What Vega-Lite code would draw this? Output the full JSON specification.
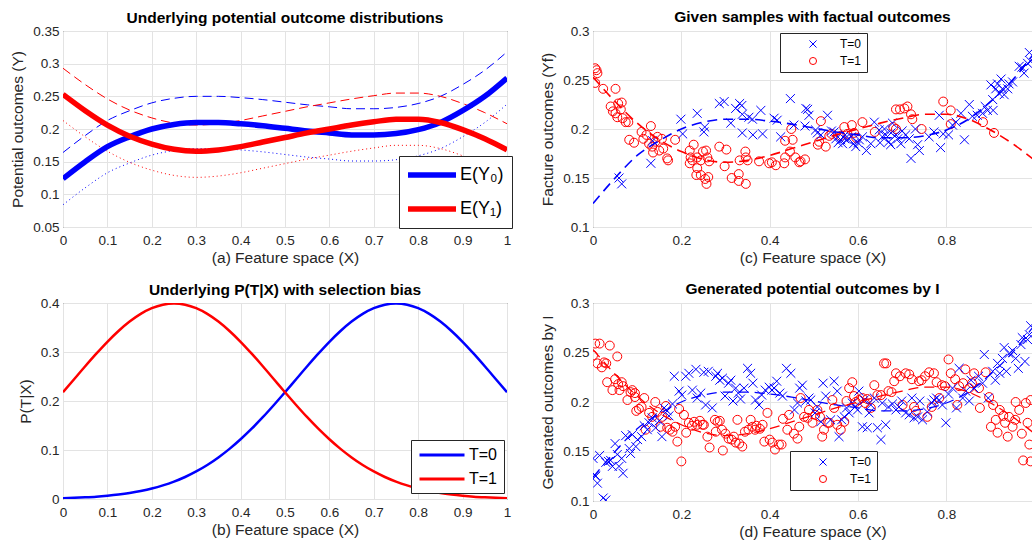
{
"$schema":"https://vega.github.io/schema/vega-lite/v6.json",
"padding":{"left":10,"top":9,"right":0,"bottom":0},
"background":"white",
"config":{
 "font":"Liberation Sans",
 "view":{"stroke":"#262626","strokeWidth":1},
 "axis":{"domain":false,"ticks":false,"grid":true,"gridColor":"#e3e3e3","labelFontSize":13.5,"labelColor":"#262626","titleFontSize":15.5,"titleFontWeight":"normal","titleColor":"#262626","labelPadding":4,"labelOverlap":false,"labelFlush":false,"labelBound":false},
 "axisX":{"labelPadding":6,"titlePadding":4},
 "axisY":{"titlePadding":7},
 "title":{"fontSize":15.5,"fontWeight":"bold","color":"#000000","anchor":"middle","offset":-2},
 "legend":{"strokeColor":"#262626","fillColor":"white","labelColor":"#000000","cornerRadius":0}
},
"datasets":{
 "curves":[
  {"x":0,"m0":0.124,"m1":0.253,"u0":0.164,"l0":0.084,"u1":0.293,"l1":0.213},
  {"x":0.05,"m0":0.150,"m1":0.228,"u0":0.190,"l0":0.110,"u1":0.268,"l1":0.188},
  {"x":0.1,"m0":0.173,"m1":0.206,"u0":0.213,"l0":0.133,"u1":0.246,"l1":0.166},
  {"x":0.15,"m0":0.188,"m1":0.189,"u0":0.228,"l0":0.148,"u1":0.229,"l1":0.149},
  {"x":0.2,"m0":0.200,"m1":0.177,"u0":0.240,"l0":0.160,"u1":0.217,"l1":0.137},
  {"x":0.25,"m0":0.207,"m1":0.169,"u0":0.247,"l0":0.167,"u1":0.209,"l1":0.129},
  {"x":0.3,"m0":0.210,"m1":0.166,"u0":0.250,"l0":0.170,"u1":0.206,"l1":0.126},
  {"x":0.35,"m0":0.210,"m1":0.168,"u0":0.250,"l0":0.170,"u1":0.208,"l1":0.128},
  {"x":0.4,"m0":0.208,"m1":0.173,"u0":0.248,"l0":0.168,"u1":0.213,"l1":0.133},
  {"x":0.45,"m0":0.205,"m1":0.180,"u0":0.245,"l0":0.165,"u1":0.220,"l1":0.140},
  {"x":0.5,"m0":0.201,"m1":0.187,"u0":0.241,"l0":0.161,"u1":0.227,"l1":0.147},
  {"x":0.55,"m0":0.197,"m1":0.194,"u0":0.237,"l0":0.157,"u1":0.234,"l1":0.154},
  {"x":0.6,"m0":0.194,"m1":0.200,"u0":0.234,"l0":0.154,"u1":0.240,"l1":0.160},
  {"x":0.65,"m0":0.191,"m1":0.206,"u0":0.231,"l0":0.151,"u1":0.246,"l1":0.166},
  {"x":0.7,"m0":0.191,"m1":0.211,"u0":0.231,"l0":0.151,"u1":0.251,"l1":0.171},
  {"x":0.75,"m0":0.193,"m1":0.215,"u0":0.233,"l0":0.153,"u1":0.255,"l1":0.175},
  {"x":0.8,"m0":0.199,"m1":0.215,"u0":0.239,"l0":0.159,"u1":0.255,"l1":0.175},
  {"x":0.85,"m0":0.210,"m1":0.210,"u0":0.250,"l0":0.170,"u1":0.250,"l1":0.170},
  {"x":0.9,"m0":0.228,"m1":0.199,"u0":0.268,"l0":0.188,"u1":0.239,"l1":0.159},
  {"x":0.95,"m0":0.250,"m1":0.185,"u0":0.290,"l0":0.210,"u1":0.225,"l1":0.145},
  {"x":1,"m0":0.278,"m1":0.168,"u0":0.318,"l0":0.238,"u1":0.208,"l1":0.128}
 ],
 "ptx":[
  {"x":0,"T=0":0.0017,"T=1":0.2178},{"x":0.025,"T=0":0.0025,"T=1":0.2444},{"x":0.05,"T=0":0.0035,"T=1":0.2709},{"x":0.075,"T=0":0.0048,"T=1":0.2966},{"x":0.1,"T=0":0.0067,"T=1":0.3209},{"x":0.125,"T=0":0.0091,"T=1":0.3429},{"x":0.15,"T=0":0.0122,"T=1":0.3621},{"x":0.175,"T=0":0.0163,"T=1":0.3778},{"x":0.2,"T=0":0.0213,"T=1":0.3894},{"x":0.225,"T=0":0.0277,"T=1":0.3965},{"x":0.25,"T=0":0.0355,"T=1":0.3989},{"x":0.275,"T=0":0.0449,"T=1":0.3965},{"x":0.3,"T=0":0.0562,"T=1":0.3894},{"x":0.325,"T=0":0.0694,"T=1":0.3778},{"x":0.35,"T=0":0.0848,"T=1":0.3621},{"x":0.375,"T=0":0.1023,"T=1":0.3429},{"x":0.4,"T=0":0.1219,"T=1":0.3209},{"x":0.425,"T=0":0.1435,"T=1":0.2966},{"x":0.45,"T=0":0.1669,"T=1":0.2709},{"x":0.475,"T=0":0.1919,"T=1":0.2444},{"x":0.5,"T=0":0.2178,"T=1":0.2178},{"x":0.525,"T=0":0.2444,"T=1":0.1919},{"x":0.55,"T=0":0.2709,"T=1":0.1669},{"x":0.575,"T=0":0.2966,"T=1":0.1435},{"x":0.6,"T=0":0.3209,"T=1":0.1219},{"x":0.625,"T=0":0.3429,"T=1":0.1023},{"x":0.65,"T=0":0.3621,"T=1":0.0848},{"x":0.675,"T=0":0.3778,"T=1":0.0694},{"x":0.7,"T=0":0.3894,"T=1":0.0562},{"x":0.725,"T=0":0.3965,"T=1":0.0449},{"x":0.75,"T=0":0.3989,"T=1":0.0355},{"x":0.775,"T=0":0.3965,"T=1":0.0277},{"x":0.8,"T=0":0.3894,"T=1":0.0213},{"x":0.825,"T=0":0.3778,"T=1":0.0163},{"x":0.85,"T=0":0.3621,"T=1":0.0122},{"x":0.875,"T=0":0.3429,"T=1":0.0091},{"x":0.9,"T=0":0.3209,"T=1":0.0067},{"x":0.925,"T=0":0.2966,"T=1":0.0048},{"x":0.95,"T=0":0.2709,"T=1":0.0035},{"x":0.975,"T=0":0.2444,"T=1":0.0025},{"x":1,"T=0":0.2178,"T=1":0.0017}
 ],
 "sc":[
  {"T":"T=1","x":0.005,"v":0.262},{"T":"T=1","x":0.008,"v":0.260},{"T":"T=1","x":0.010,"v":0.257},{"T":"T=1","x":0.005,"v":0.247},{"T":"T=1","x":0.023,"v":0.241},{"T":"T=1","x":0.051,"v":0.241},{"T":"T=1","x":0.040,"v":0.223},{"T":"T=1","x":0.045,"v":0.218},{"T":"T=1","x":0.051,"v":0.216},{"T":"T=1","x":0.057,"v":0.226},{"T":"T=1","x":0.065,"v":0.227},{"T":"T=1","x":0.063,"v":0.220},{"T":"T=1","x":0.055,"v":0.212},{"T":"T=1","x":0.067,"v":0.211},{"T":"T=1","x":0.074,"v":0.207},{"T":"T=1","x":0.080,"v":0.207},{"T":"T=1","x":0.082,"v":0.189},{"T":"T=1","x":0.093,"v":0.186},{"T":"T=1","x":0.110,"v":0.197},{"T":"T=1","x":0.114,"v":0.190},{"T":"T=1","x":0.121,"v":0.194},{"T":"T=1","x":0.131,"v":0.203},{"T":"T=1","x":0.127,"v":0.185},{"T":"T=1","x":0.134,"v":0.182},{"T":"T=1","x":0.146,"v":0.192},{"T":"T=1","x":0.141,"v":0.187},{"T":"T=1","x":0.156,"v":0.190},{"T":"T=1","x":0.150,"v":0.178},{"T":"T=1","x":0.159,"v":0.180},{"T":"T=1","x":0.168,"v":0.170},{"T":"T=1","x":0.170,"v":0.168},{"T":"T=1","x":0.136,"v":0.176},{"T":"T=1","x":0.186,"v":0.189},{"T":"T=1","x":0.219,"v":0.178},{"T":"T=1","x":0.228,"v":0.184},{"T":"T=1","x":0.221,"v":0.171},{"T":"T=1","x":0.225,"v":0.168},{"T":"T=1","x":0.219,"v":0.165},{"T":"T=1","x":0.236,"v":0.171},{"T":"T=1","x":0.244,"v":0.168},{"T":"T=1","x":0.249,"v":0.177},{"T":"T=1","x":0.256,"v":0.178},{"T":"T=1","x":0.259,"v":0.171},{"T":"T=1","x":0.263,"v":0.167},{"T":"T=1","x":0.236,"v":0.160},{"T":"T=1","x":0.234,"v":0.153},{"T":"T=1","x":0.244,"v":0.153},{"T":"T=1","x":0.254,"v":0.149},{"T":"T=1","x":0.257,"v":0.144},{"T":"T=1","x":0.261,"v":0.151},{"T":"T=1","x":0.286,"v":0.182},{"T":"T=1","x":0.302,"v":0.179},{"T":"T=1","x":0.298,"v":0.162},{"T":"T=1","x":0.314,"v":0.150},{"T":"T=1","x":0.330,"v":0.154},{"T":"T=1","x":0.330,"v":0.147},{"T":"T=1","x":0.346,"v":0.144},{"T":"T=1","x":0.345,"v":0.177},{"T":"T=1","x":0.346,"v":0.171},{"T":"T=1","x":0.350,"v":0.168},{"T":"T=1","x":0.332,"v":0.168},{"T":"T=1","x":0.376,"v":0.167},{"T":"T=1","x":0.399,"v":0.165},{"T":"T=1","x":0.405,"v":0.166},{"T":"T=1","x":0.414,"v":0.163},{"T":"T=1","x":0.433,"v":0.165},{"T":"T=1","x":0.435,"v":0.171},{"T":"T=1","x":0.446,"v":0.177},{"T":"T=1","x":0.458,"v":0.171},{"T":"T=1","x":0.467,"v":0.166},{"T":"T=1","x":0.470,"v":0.167},{"T":"T=1","x":0.480,"v":0.169},{"T":"T=1","x":0.435,"v":0.188},{"T":"T=1","x":0.452,"v":0.189},{"T":"T=1","x":0.449,"v":0.200},{"T":"T=1","x":0.509,"v":0.184},{"T":"T=1","x":0.512,"v":0.187},{"T":"T=1","x":0.516,"v":0.208},{"T":"T=1","x":0.527,"v":0.182},{"T":"T=1","x":0.535,"v":0.193},{"T":"T=1","x":0.540,"v":0.195},{"T":"T=1","x":0.561,"v":0.193},{"T":"T=1","x":0.569,"v":0.202},{"T":"T=1","x":0.576,"v":0.195},{"T":"T=1","x":0.586,"v":0.204},{"T":"T=1","x":0.591,"v":0.196},{"T":"T=1","x":0.596,"v":0.191},{"T":"T=1","x":0.610,"v":0.207},{"T":"T=1","x":0.638,"v":0.197},{"T":"T=1","x":0.680,"v":0.202},{"T":"T=1","x":0.686,"v":0.200},{"T":"T=1","x":0.686,"v":0.220},{"T":"T=1","x":0.695,"v":0.220},{"T":"T=1","x":0.705,"v":0.221},{"T":"T=1","x":0.712,"v":0.223},{"T":"T=1","x":0.720,"v":0.215},{"T":"T=1","x":0.723,"v":0.210},{"T":"T=1","x":0.744,"v":0.200},{"T":"T=1","x":0.793,"v":0.228},{"T":"T=1","x":0.810,"v":0.219},{"T":"T=1","x":0.810,"v":0.205},{"T":"T=1","x":0.883,"v":0.207},{"T":"T=1","x":0.908,"v":0.196},
  {"T":"T=0","x":0.059,"v":0.150},{"T":"T=0","x":0.065,"v":0.144},{"T":"T=0","x":0.131,"v":0.165},{"T":"T=0","x":0.135,"v":0.188},{"T":"T=0","x":0.199,"v":0.210},{"T":"T=0","x":0.203,"v":0.195},{"T":"T=0","x":0.236,"v":0.216},{"T":"T=0","x":0.253,"v":0.202},{"T":"T=0","x":0.251,"v":0.197},{"T":"T=0","x":0.286,"v":0.226},{"T":"T=0","x":0.297,"v":0.228},{"T":"T=0","x":0.312,"v":0.206},{"T":"T=0","x":0.323,"v":0.221},{"T":"T=0","x":0.332,"v":0.226},{"T":"T=0","x":0.337,"v":0.224},{"T":"T=0","x":0.338,"v":0.215},{"T":"T=0","x":0.338,"v":0.196},{"T":"T=0","x":0.353,"v":0.212},{"T":"T=0","x":0.361,"v":0.210},{"T":"T=0","x":0.362,"v":0.194},{"T":"T=0","x":0.384,"v":0.195},{"T":"T=0","x":0.380,"v":0.219},{"T":"T=0","x":0.410,"v":0.211},{"T":"T=0","x":0.417,"v":0.209},{"T":"T=0","x":0.425,"v":0.192},{"T":"T=0","x":0.447,"v":0.231},{"T":"T=0","x":0.455,"v":0.204},{"T":"T=0","x":0.482,"v":0.221},{"T":"T=0","x":0.486,"v":0.220},{"T":"T=0","x":0.480,"v":0.203},{"T":"T=0","x":0.489,"v":0.214},{"T":"T=0","x":0.504,"v":0.199},{"T":"T=0","x":0.508,"v":0.196},{"T":"T=0","x":0.516,"v":0.194},{"T":"T=0","x":0.531,"v":0.214},{"T":"T=0","x":0.546,"v":0.197},{"T":"T=0","x":0.550,"v":0.190},{"T":"T=0","x":0.561,"v":0.189},{"T":"T=0","x":0.565,"v":0.185},{"T":"T=0","x":0.571,"v":0.194},{"T":"T=0","x":0.576,"v":0.189},{"T":"T=0","x":0.595,"v":0.182},{"T":"T=0","x":0.603,"v":0.189},{"T":"T=0","x":0.610,"v":0.192},{"T":"T=0","x":0.619,"v":0.178},{"T":"T=0","x":0.629,"v":0.185},{"T":"T=0","x":0.637,"v":0.207},{"T":"T=0","x":0.648,"v":0.199},{"T":"T=0","x":0.655,"v":0.192},{"T":"T=0","x":0.663,"v":0.194},{"T":"T=0","x":0.670,"v":0.187},{"T":"T=0","x":0.674,"v":0.184},{"T":"T=0","x":0.678,"v":0.206},{"T":"T=0","x":0.686,"v":0.194},{"T":"T=0","x":0.697,"v":0.185},{"T":"T=0","x":0.708,"v":0.194},{"T":"T=0","x":0.716,"v":0.190},{"T":"T=0","x":0.720,"v":0.170},{"T":"T=0","x":0.730,"v":0.200},{"T":"T=0","x":0.735,"v":0.184},{"T":"T=0","x":0.739,"v":0.178},{"T":"T=0","x":0.761,"v":0.192},{"T":"T=0","x":0.772,"v":0.197},{"T":"T=0","x":0.784,"v":0.214},{"T":"T=0","x":0.787,"v":0.181},{"T":"T=0","x":0.793,"v":0.195},{"T":"T=0","x":0.805,"v":0.194},{"T":"T=0","x":0.814,"v":0.204},{"T":"T=0","x":0.822,"v":0.207},{"T":"T=0","x":0.833,"v":0.216},{"T":"T=0","x":0.841,"v":0.189},{"T":"T=0","x":0.852,"v":0.225},{"T":"T=0","x":0.859,"v":0.213},{"T":"T=0","x":0.870,"v":0.214},{"T":"T=0","x":0.882,"v":0.216},{"T":"T=0","x":0.888,"v":0.223},{"T":"T=0","x":0.893,"v":0.219},{"T":"T=0","x":0.901,"v":0.245},{"T":"T=0","x":0.905,"v":0.230},{"T":"T=0","x":0.906,"v":0.219},{"T":"T=0","x":0.912,"v":0.241},{"T":"T=0","x":0.916,"v":0.246},{"T":"T=0","x":0.920,"v":0.236},{"T":"T=0","x":0.924,"v":0.251},{"T":"T=0","x":0.927,"v":0.241},{"T":"T=0","x":0.931,"v":0.235},{"T":"T=0","x":0.939,"v":0.241},{"T":"T=0","x":0.942,"v":0.246},{"T":"T=0","x":0.950,"v":0.248},{"T":"T=0","x":0.965,"v":0.264},{"T":"T=0","x":0.971,"v":0.263},{"T":"T=0","x":0.976,"v":0.257},{"T":"T=0","x":0.984,"v":0.267},{"T":"T=0","x":0.988,"v":0.278},{"T":"T=0","x":0.991,"v":0.269},{"T":"T=0","x":0.555,"v":0.186},{"T":"T=0","x":0.585,"v":0.192},{"T":"T=0","x":0.590,"v":0.185},{"T":"T=0","x":0.540,"v":0.198},{"T":"T=0","x":0.570,"v":0.190},{"T":"T=0","x":0.600,"v":0.186},{"T":"T=0","x":0.690,"v":0.190},{"T":"T=0","x":0.700,"v":0.198},{"T":"T=0","x":0.650,"v":0.186},{"T":"T=0","x":0.660,"v":0.200},{"T":"T=0","x":0.675,"v":0.196}
 ],
 "sd":[
  {"T":"T=1","x":0.000,"v":0.247},{"T":"T=1","x":0.005,"v":0.259},{"T":"T=1","x":0.015,"v":0.259},{"T":"T=1","x":0.010,"v":0.239},{"T":"T=1","x":0.020,"v":0.235},{"T":"T=1","x":0.025,"v":0.240},{"T":"T=1","x":0.030,"v":0.239},{"T":"T=1","x":0.038,"v":0.257},{"T":"T=1","x":0.055,"v":0.246},{"T":"T=1","x":0.032,"v":0.220},{"T":"T=1","x":0.044,"v":0.212},{"T":"T=1","x":0.050,"v":0.223},{"T":"T=1","x":0.057,"v":0.218},{"T":"T=1","x":0.065,"v":0.220},{"T":"T=1","x":0.068,"v":0.216},{"T":"T=1","x":0.060,"v":0.212},{"T":"T=1","x":0.078,"v":0.202},{"T":"T=1","x":0.085,"v":0.210},{"T":"T=1","x":0.089,"v":0.212},{"T":"T=1","x":0.095,"v":0.209},{"T":"T=1","x":0.095,"v":0.205},{"T":"T=1","x":0.098,"v":0.191},{"T":"T=1","x":0.104,"v":0.193},{"T":"T=1","x":0.110,"v":0.195},{"T":"T=1","x":0.116,"v":0.204},{"T":"T=1","x":0.119,"v":0.172},{"T":"T=1","x":0.127,"v":0.189},{"T":"T=1","x":0.134,"v":0.185},{"T":"T=1","x":0.141,"v":0.200},{"T":"T=1","x":0.146,"v":0.190},{"T":"T=1","x":0.153,"v":0.175},{"T":"T=1","x":0.157,"v":0.185},{"T":"T=1","x":0.165,"v":0.196},{"T":"T=1","x":0.168,"v":0.174},{"T":"T=1","x":0.174,"v":0.172},{"T":"T=1","x":0.180,"v":0.170},{"T":"T=1","x":0.186,"v":0.175},{"T":"T=1","x":0.191,"v":0.160},{"T":"T=1","x":0.195,"v":0.193},{"T":"T=1","x":0.206,"v":0.187},{"T":"T=1","x":0.211,"v":0.169},{"T":"T=1","x":0.217,"v":0.179},{"T":"T=1","x":0.224,"v":0.176},{"T":"T=1","x":0.229,"v":0.180},{"T":"T=1","x":0.236,"v":0.177},{"T":"T=1","x":0.242,"v":0.181},{"T":"T=1","x":0.248,"v":0.177},{"T":"T=1","x":0.251,"v":0.177},{"T":"T=1","x":0.259,"v":0.165},{"T":"T=1","x":0.264,"v":0.154},{"T":"T=1","x":0.200,"v":0.140},{"T":"T=1","x":0.276,"v":0.182},{"T":"T=1","x":0.282,"v":0.180},{"T":"T=1","x":0.287,"v":0.181},{"T":"T=1","x":0.278,"v":0.170},{"T":"T=1","x":0.292,"v":0.172},{"T":"T=1","x":0.294,"v":0.151},{"T":"T=1","x":0.300,"v":0.168},{"T":"T=1","x":0.307,"v":0.163},{"T":"T=1","x":0.314,"v":0.162},{"T":"T=1","x":0.319,"v":0.165},{"T":"T=1","x":0.323,"v":0.159},{"T":"T=1","x":0.327,"v":0.182},{"T":"T=1","x":0.331,"v":0.158},{"T":"T=1","x":0.338,"v":0.155},{"T":"T=1","x":0.344,"v":0.170},{"T":"T=1","x":0.352,"v":0.172},{"T":"T=1","x":0.357,"v":0.182},{"T":"T=1","x":0.361,"v":0.175},{"T":"T=1","x":0.367,"v":0.172},{"T":"T=1","x":0.370,"v":0.176},{"T":"T=1","x":0.378,"v":0.173},{"T":"T=1","x":0.384,"v":0.177},{"T":"T=1","x":0.388,"v":0.160},{"T":"T=1","x":0.395,"v":0.189},{"T":"T=1","x":0.400,"v":0.162},{"T":"T=1","x":0.406,"v":0.159},{"T":"T=1","x":0.412,"v":0.152},{"T":"T=1","x":0.421,"v":0.157},{"T":"T=1","x":0.427,"v":0.157},{"T":"T=1","x":0.430,"v":0.183},{"T":"T=1","x":0.440,"v":0.172},{"T":"T=1","x":0.444,"v":0.187},{"T":"T=1","x":0.455,"v":0.168},{"T":"T=1","x":0.463,"v":0.163},{"T":"T=1","x":0.467,"v":0.175},{"T":"T=1","x":0.470,"v":0.204},{"T":"T=1","x":0.478,"v":0.185},{"T":"T=1","x":0.486,"v":0.184},{"T":"T=1","x":0.489,"v":0.192},{"T":"T=1","x":0.497,"v":0.179},{"T":"T=1","x":0.503,"v":0.187},{"T":"T=1","x":0.508,"v":0.192},{"T":"T=1","x":0.514,"v":0.185},{"T":"T=1","x":0.519,"v":0.165},{"T":"T=1","x":0.523,"v":0.172},{"T":"T=1","x":0.531,"v":0.179},{"T":"T=1","x":0.535,"v":0.179},{"T":"T=1","x":0.542,"v":0.202},{"T":"T=1","x":0.546,"v":0.194},{"T":"T=1","x":0.553,"v":0.177},{"T":"T=1","x":0.561,"v":0.172},{"T":"T=1","x":0.569,"v":0.180},{"T":"T=1","x":0.574,"v":0.201},{"T":"T=1","x":0.580,"v":0.214},{"T":"T=1","x":0.587,"v":0.220},{"T":"T=1","x":0.591,"v":0.206},{"T":"T=1","x":0.595,"v":0.200},{"T":"T=1","x":0.602,"v":0.202},{"T":"T=1","x":0.610,"v":0.204},{"T":"T=1","x":0.616,"v":0.199},{"T":"T=1","x":0.621,"v":0.203},{"T":"T=1","x":0.629,"v":0.194},{"T":"T=1","x":0.637,"v":0.217},{"T":"T=1","x":0.644,"v":0.207},{"T":"T=1","x":0.652,"v":0.207},{"T":"T=1","x":0.659,"v":0.239},{"T":"T=1","x":0.664,"v":0.239},{"T":"T=1","x":0.669,"v":0.211},{"T":"T=1","x":0.676,"v":0.210},{"T":"T=1","x":0.682,"v":0.221},{"T":"T=1","x":0.686,"v":0.229},{"T":"T=1","x":0.695,"v":0.226},{"T":"T=1","x":0.701,"v":0.197},{"T":"T=1","x":0.708,"v":0.229},{"T":"T=1","x":0.716,"v":0.228},{"T":"T=1","x":0.722,"v":0.223},{"T":"T=1","x":0.727,"v":0.195},{"T":"T=1","x":0.731,"v":0.191},{"T":"T=1","x":0.738,"v":0.221},{"T":"T=1","x":0.744,"v":0.222},{"T":"T=1","x":0.752,"v":0.226},{"T":"T=1","x":0.757,"v":0.185},{"T":"T=1","x":0.761,"v":0.230},{"T":"T=1","x":0.767,"v":0.195},{"T":"T=1","x":0.772,"v":0.229},{"T":"T=1","x":0.778,"v":0.220},{"T":"T=1","x":0.784,"v":0.204},{"T":"T=1","x":0.790,"v":0.217},{"T":"T=1","x":0.797,"v":0.216},{"T":"T=1","x":0.805,"v":0.243},{"T":"T=1","x":0.810,"v":0.229},{"T":"T=1","x":0.820,"v":0.223},{"T":"T=1","x":0.825,"v":0.197},{"T":"T=1","x":0.829,"v":0.216},{"T":"T=1","x":0.838,"v":0.219},{"T":"T=1","x":0.843,"v":0.233},{"T":"T=1","x":0.852,"v":0.214},{"T":"T=1","x":0.858,"v":0.219},{"T":"T=1","x":0.863,"v":0.229},{"T":"T=1","x":0.874,"v":0.214},{"T":"T=1","x":0.876,"v":0.194},{"T":"T=1","x":0.889,"v":0.230},{"T":"T=1","x":0.897,"v":0.205},{"T":"T=1","x":0.901,"v":0.175},{"T":"T=1","x":0.906,"v":0.197},{"T":"T=1","x":0.912,"v":0.182},{"T":"T=1","x":0.916,"v":0.169},{"T":"T=1","x":0.921,"v":0.192},{"T":"T=1","x":0.929,"v":0.186},{"T":"T=1","x":0.933,"v":0.179},{"T":"T=1","x":0.939,"v":0.165},{"T":"T=1","x":0.942,"v":0.185},{"T":"T=1","x":0.950,"v":0.175},{"T":"T=1","x":0.956,"v":0.182},{"T":"T=1","x":0.957,"v":0.200},{"T":"T=1","x":0.965,"v":0.192},{"T":"T=1","x":0.971,"v":0.168},{"T":"T=1","x":0.974,"v":0.141},{"T":"T=1","x":0.980,"v":0.199},{"T":"T=1","x":0.984,"v":0.179},{"T":"T=1","x":0.988,"v":0.157},{"T":"T=1","x":0.991,"v":0.202},{"T":"T=1","x":0.991,"v":0.140},
  {"T":"T=0","x":0.000,"v":0.143},{"T":"T=0","x":0.005,"v":0.126},{"T":"T=0","x":0.006,"v":0.125},{"T":"T=0","x":0.010,"v":0.118},{"T":"T=0","x":0.023,"v":0.103},{"T":"T=0","x":0.029,"v":0.101},{"T":"T=0","x":0.015,"v":0.146},{"T":"T=0","x":0.029,"v":0.139},{"T":"T=0","x":0.035,"v":0.140},{"T":"T=0","x":0.040,"v":0.141},{"T":"T=0","x":0.044,"v":0.135},{"T":"T=0","x":0.050,"v":0.158},{"T":"T=0","x":0.055,"v":0.147},{"T":"T=0","x":0.059,"v":0.135},{"T":"T=0","x":0.065,"v":0.143},{"T":"T=0","x":0.068,"v":0.128},{"T":"T=0","x":0.074,"v":0.166},{"T":"T=0","x":0.082,"v":0.153},{"T":"T=0","x":0.085,"v":0.148},{"T":"T=0","x":0.089,"v":0.167},{"T":"T=0","x":0.097,"v":0.155},{"T":"T=0","x":0.101,"v":0.162},{"T":"T=0","x":0.110,"v":0.165},{"T":"T=0","x":0.116,"v":0.176},{"T":"T=0","x":0.123,"v":0.172},{"T":"T=0","x":0.127,"v":0.179},{"T":"T=0","x":0.134,"v":0.184},{"T":"T=0","x":0.142,"v":0.174},{"T":"T=0","x":0.150,"v":0.181},{"T":"T=0","x":0.156,"v":0.165},{"T":"T=0","x":0.161,"v":0.194},{"T":"T=0","x":0.168,"v":0.191},{"T":"T=0","x":0.172,"v":0.186},{"T":"T=0","x":0.180,"v":0.198},{"T":"T=0","x":0.184,"v":0.226},{"T":"T=0","x":0.195,"v":0.211},{"T":"T=0","x":0.201,"v":0.207},{"T":"T=0","x":0.210,"v":0.226},{"T":"T=0","x":0.217,"v":0.229},{"T":"T=0","x":0.225,"v":0.212},{"T":"T=0","x":0.233,"v":0.233},{"T":"T=0","x":0.236,"v":0.204},{"T":"T=0","x":0.244,"v":0.209},{"T":"T=0","x":0.251,"v":0.230},{"T":"T=0","x":0.255,"v":0.197},{"T":"T=0","x":0.261,"v":0.231},{"T":"T=0","x":0.270,"v":0.194},{"T":"T=0","x":0.278,"v":0.226},{"T":"T=0","x":0.282,"v":0.229},{"T":"T=0","x":0.287,"v":0.222},{"T":"T=0","x":0.293,"v":0.224},{"T":"T=0","x":0.299,"v":0.206},{"T":"T=0","x":0.307,"v":0.219},{"T":"T=0","x":0.312,"v":0.222},{"T":"T=0","x":0.317,"v":0.201},{"T":"T=0","x":0.323,"v":0.214},{"T":"T=0","x":0.329,"v":0.209},{"T":"T=0","x":0.334,"v":0.203},{"T":"T=0","x":0.342,"v":0.214},{"T":"T=0","x":0.350,"v":0.234},{"T":"T=0","x":0.357,"v":0.229},{"T":"T=0","x":0.362,"v":0.219},{"T":"T=0","x":0.368,"v":0.202},{"T":"T=0","x":0.376,"v":0.197},{"T":"T=0","x":0.382,"v":0.207},{"T":"T=0","x":0.390,"v":0.212},{"T":"T=0","x":0.399,"v":0.215},{"T":"T=0","x":0.405,"v":0.212},{"T":"T=0","x":0.410,"v":0.214},{"T":"T=0","x":0.416,"v":0.221},{"T":"T=0","x":0.423,"v":0.209},{"T":"T=0","x":0.429,"v":0.206},{"T":"T=0","x":0.438,"v":0.234},{"T":"T=0","x":0.448,"v":0.229},{"T":"T=0","x":0.456,"v":0.192},{"T":"T=0","x":0.463,"v":0.199},{"T":"T=0","x":0.468,"v":0.214},{"T":"T=0","x":0.474,"v":0.217},{"T":"T=0","x":0.482,"v":0.201},{"T":"T=0","x":0.489,"v":0.204},{"T":"T=0","x":0.493,"v":0.202},{"T":"T=0","x":0.503,"v":0.189},{"T":"T=0","x":0.508,"v":0.195},{"T":"T=0","x":0.516,"v":0.180},{"T":"T=0","x":0.521,"v":0.219},{"T":"T=0","x":0.527,"v":0.206},{"T":"T=0","x":0.538,"v":0.182},{"T":"T=0","x":0.546,"v":0.221},{"T":"T=0","x":0.553,"v":0.211},{"T":"T=0","x":0.557,"v":0.165},{"T":"T=0","x":0.563,"v":0.182},{"T":"T=0","x":0.569,"v":0.185},{"T":"T=0","x":0.574,"v":0.194},{"T":"T=0","x":0.580,"v":0.189},{"T":"T=0","x":0.587,"v":0.199},{"T":"T=0","x":0.593,"v":0.195},{"T":"T=0","x":0.599,"v":0.192},{"T":"T=0","x":0.602,"v":0.211},{"T":"T=0","x":0.610,"v":0.175},{"T":"T=0","x":0.614,"v":0.202},{"T":"T=0","x":0.621,"v":0.174},{"T":"T=0","x":0.625,"v":0.189},{"T":"T=0","x":0.629,"v":0.197},{"T":"T=0","x":0.637,"v":0.204},{"T":"T=0","x":0.644,"v":0.174},{"T":"T=0","x":0.652,"v":0.162},{"T":"T=0","x":0.655,"v":0.199},{"T":"T=0","x":0.663,"v":0.177},{"T":"T=0","x":0.669,"v":0.195},{"T":"T=0","x":0.678,"v":0.198},{"T":"T=0","x":0.686,"v":0.192},{"T":"T=0","x":0.693,"v":0.195},{"T":"T=0","x":0.699,"v":0.201},{"T":"T=0","x":0.708,"v":0.189},{"T":"T=0","x":0.716,"v":0.187},{"T":"T=0","x":0.722,"v":0.204},{"T":"T=0","x":0.727,"v":0.184},{"T":"T=0","x":0.735,"v":0.185},{"T":"T=0","x":0.740,"v":0.201},{"T":"T=0","x":0.746,"v":0.182},{"T":"T=0","x":0.757,"v":0.190},{"T":"T=0","x":0.767,"v":0.199},{"T":"T=0","x":0.772,"v":0.202},{"T":"T=0","x":0.778,"v":0.204},{"T":"T=0","x":0.784,"v":0.202},{"T":"T=0","x":0.791,"v":0.197},{"T":"T=0","x":0.799,"v":0.179},{"T":"T=0","x":0.805,"v":0.208},{"T":"T=0","x":0.814,"v":0.214},{"T":"T=0","x":0.823,"v":0.194},{"T":"T=0","x":0.829,"v":0.234},{"T":"T=0","x":0.837,"v":0.204},{"T":"T=0","x":0.844,"v":0.211},{"T":"T=0","x":0.852,"v":0.201},{"T":"T=0","x":0.856,"v":0.222},{"T":"T=0","x":0.863,"v":0.214},{"T":"T=0","x":0.873,"v":0.226},{"T":"T=0","x":0.882,"v":0.219},{"T":"T=0","x":0.886,"v":0.248},{"T":"T=0","x":0.895,"v":0.204},{"T":"T=0","x":0.905,"v":0.231},{"T":"T=0","x":0.911,"v":0.222},{"T":"T=0","x":0.916,"v":0.239},{"T":"T=0","x":0.921,"v":0.229},{"T":"T=0","x":0.927,"v":0.244},{"T":"T=0","x":0.931,"v":0.255},{"T":"T=0","x":0.936,"v":0.231},{"T":"T=0","x":0.942,"v":0.249},{"T":"T=0","x":0.950,"v":0.252},{"T":"T=0","x":0.957,"v":0.244},{"T":"T=0","x":0.963,"v":0.234},{"T":"T=0","x":0.969,"v":0.258},{"T":"T=0","x":0.972,"v":0.265},{"T":"T=0","x":0.978,"v":0.241},{"T":"T=0","x":0.984,"v":0.263},{"T":"T=0","x":0.988,"v":0.268},{"T":"T=0","x":0.991,"v":0.277}
 ]
},
"spacing":27,
"resolve":{"scale":{"color":"independent","shape":"independent"},"legend":{"color":"independent","shape":"independent"}},
"hconcat":[
 {"spacing":15,
  "resolve":{"scale":{"color":"independent","shape":"independent"},"legend":{"color":"independent","shape":"independent"}},
  "vconcat":[
  {"width":444,"height":196,
   "title":"Underlying potential outcome distributions",
   "data":{"name":"curves"},
   "transform":[{"fold":["m0","m1","u0","l0","u1","l1"],"as":["k","v"]}],
   "encoding":{
    "x":{"field":"x","type":"quantitative","scale":{"domain":[0,1],"nice":false},"axis":{"title":"(a) Feature space (X)","values":[0,0.1,0.2,0.3,0.4,0.5,0.6,0.7,0.8,0.9,1],"format":"~g"}},
    "y":{"field":"v","type":"quantitative","scale":{"domain":[0.05,0.35],"nice":false,"zero":false},"axis":{"title":"Potential outcomes (Y)","values":[0.05,0.1,0.15,0.2,0.25,0.3,0.35],"format":"~g"}}
   },
   "layer":[
    {"transform":[{"filter":"datum.k == 'u0'"}],"mark":{"type":"line","color":"#0000ff","strokeWidth":1,"strokeDash":[9,5],"interpolate":"monotone","clip":true}},
    {"transform":[{"filter":"datum.k == 'l0'"}],"mark":{"type":"line","color":"#0000ff","strokeWidth":1,"strokeDash":[1,3],"interpolate":"monotone","clip":true}},
    {"transform":[{"filter":"datum.k == 'u1'"}],"mark":{"type":"line","color":"#ff0000","strokeWidth":1,"strokeDash":[9,5],"interpolate":"monotone","clip":true}},
    {"transform":[{"filter":"datum.k == 'l1'"}],"mark":{"type":"line","color":"#ff0000","strokeWidth":1,"strokeDash":[1,3],"interpolate":"monotone","clip":true}},
    {"transform":[{"filter":"datum.k == 'm0' || datum.k == 'm1'"}],"mark":{"type":"line","strokeWidth":5.5,"interpolate":"monotone","clip":true},
     "encoding":{"color":{"field":"k","type":"nominal","scale":{"domain":["m0","m1"],"range":["#0000ff","#ff0000"]},
      "legend":{"orient":"none","legendX":336,"legendY":125,"title":null,"symbolType":"M-3,0L3,0","symbolStrokeWidth":5.5,"symbolSize":256,"labelFontSize":18,"padding":8,"rowPadding":12,"symbolOffset":14,"labelOffset":17,"labelExpr":"datum.label == 'm0' ? 'E(Y₀)' : 'E(Y₁)'"}}}}
   ]},
  {"width":444,"height":196,
   "title":"Underlying P(T|X) with selection bias",
   "data":{"name":"ptx"},
   "transform":[{"fold":["T=0","T=1"],"as":["T","v"]}],
   "mark":{"type":"line","strokeWidth":2.5,"interpolate":"monotone","clip":true},
   "encoding":{
    "x":{"field":"x","type":"quantitative","scale":{"domain":[0,1],"nice":false},"axis":{"title":"(b) Feature space (X)","values":[0,0.1,0.2,0.3,0.4,0.5,0.6,0.7,0.8,0.9,1],"format":"~g"}},
    "y":{"field":"v","type":"quantitative","scale":{"domain":[0,0.4],"nice":false},"axis":{"title":"P(T|X)","values":[0,0.1,0.2,0.3,0.4],"format":"~g"}},
    "color":{"field":"T","type":"nominal","scale":{"domain":["T=0","T=1"],"range":["#0000ff","#ff0000"]},
     "legend":{"orient":"none","legendX":348,"legendY":137,"title":null,"symbolType":"M-3,0L3,0","symbolStrokeWidth":2.8,"symbolSize":225,"labelFontSize":16,"padding":6,"rowPadding":7,"symbolOffset":16,"labelOffset":18}}
   }}
 ]},
 {"spacing":14,
  "resolve":{"scale":{"color":"independent","shape":"independent"},"legend":{"color":"independent","shape":"independent"}},
  "vconcat":[
  {"width":439,"height":196,
   "title":{"text":"Given samples with factual outcomes","offset":-1},
   "encoding":{
    "x":{"field":"x","type":"quantitative","scale":{"domain":[0,0.994],"nice":false},"axis":{"title":"(c)  Feature space (X)","values":[0,0.2,0.4,0.6,0.8],"format":"~g"}},
    "y":{"field":"v","type":"quantitative","scale":{"domain":[0.1,0.3],"nice":false,"zero":false},"axis":{"title":"Facture outcomes (Yf)","values":[0.1,0.15,0.2,0.25,0.3],"format":"~g"}}
   },
   "layer":[
    {"data":{"name":"sc"},"mark":{"type":"point","filled":false,"size":80,"strokeWidth":1,"opacity":1,"clip":true},
     "encoding":{
      "color":{"field":"T","type":"nominal","scale":{"domain":["T=0","T=1"],"range":["#0000ff","#ff0000"]},"legend":{"orient":"none","legendX":187,"legendY":2,"title":null,"symbolSize":50,"symbolStrokeWidth":1,"labelFontSize":12,"padding":5,"rowPadding":5,"symbolOffset":22,"labelOffset":21}},
      "shape":{"field":"T","type":"nominal","scale":{"domain":["T=0","T=1"],"range":["M-1,-1L1,1M-1,1L1,-1","circle"]},"legend":{"orient":"none","legendX":187,"legendY":2,"title":null,"symbolSize":50,"symbolStrokeWidth":1,"labelFontSize":12,"padding":5,"rowPadding":5,"symbolOffset":22,"labelOffset":21}}
     }},
    {"data":{"name":"curves"},"transform":[{"fold":["m0"],"as":["k","v"]}],"mark":{"type":"line","color":"#0000ff","strokeWidth":1.6,"strokeDash":[10,6],"interpolate":"monotone","clip":true}},
    {"data":{"name":"curves"},"transform":[{"fold":["m1"],"as":["k","v"]}],"mark":{"type":"line","color":"#ff0000","strokeWidth":1.6,"strokeDash":[10,6],"interpolate":"monotone","clip":true}}
   ]},
  {"width":439,"height":198,
   "title":{"text":"Generated potential outcomes by I","offset":-1},
   "encoding":{
    "x":{"field":"x","type":"quantitative","scale":{"domain":[0,0.994],"nice":false},"axis":{"title":"(d)  Feature space (X)","values":[0,0.2,0.4,0.6,0.8],"format":"~g"}},
    "y":{"field":"v","type":"quantitative","scale":{"domain":[0.1,0.3],"nice":false,"zero":false},"axis":{"title":"Generated outcomes by I","values":[0.1,0.15,0.2,0.25,0.3],"format":"~g"}}
   },
   "layer":[
    {"data":{"name":"sd"},"mark":{"type":"point","filled":false,"size":80,"strokeWidth":1,"opacity":1,"clip":true},
     "encoding":{
      "color":{"field":"T","type":"nominal","scale":{"domain":["T=0","T=1"],"range":["#0000ff","#ff0000"]},"legend":{"orient":"none","legendX":197,"legendY":148,"title":null,"symbolSize":50,"symbolStrokeWidth":1,"labelFontSize":12,"padding":5,"rowPadding":5,"symbolOffset":22,"labelOffset":21}},
      "shape":{"field":"T","type":"nominal","scale":{"domain":["T=0","T=1"],"range":["M-1,-1L1,1M-1,1L1,-1","circle"]},"legend":{"orient":"none","legendX":197,"legendY":148,"title":null,"symbolSize":50,"symbolStrokeWidth":1,"labelFontSize":12,"padding":5,"rowPadding":5,"symbolOffset":22,"labelOffset":21}}
     }},
    {"data":{"name":"curves"},"transform":[{"fold":["m0"],"as":["k","v"]}],"mark":{"type":"line","color":"#0000ff","strokeWidth":1.3,"strokeDash":[10,6],"interpolate":"monotone","clip":true}},
    {"data":{"name":"curves"},"transform":[{"fold":["m1"],"as":["k","v"]}],"mark":{"type":"line","color":"#ff0000","strokeWidth":1.3,"strokeDash":[10,6],"interpolate":"monotone","clip":true}}
   ]}
 ]}
]
}
